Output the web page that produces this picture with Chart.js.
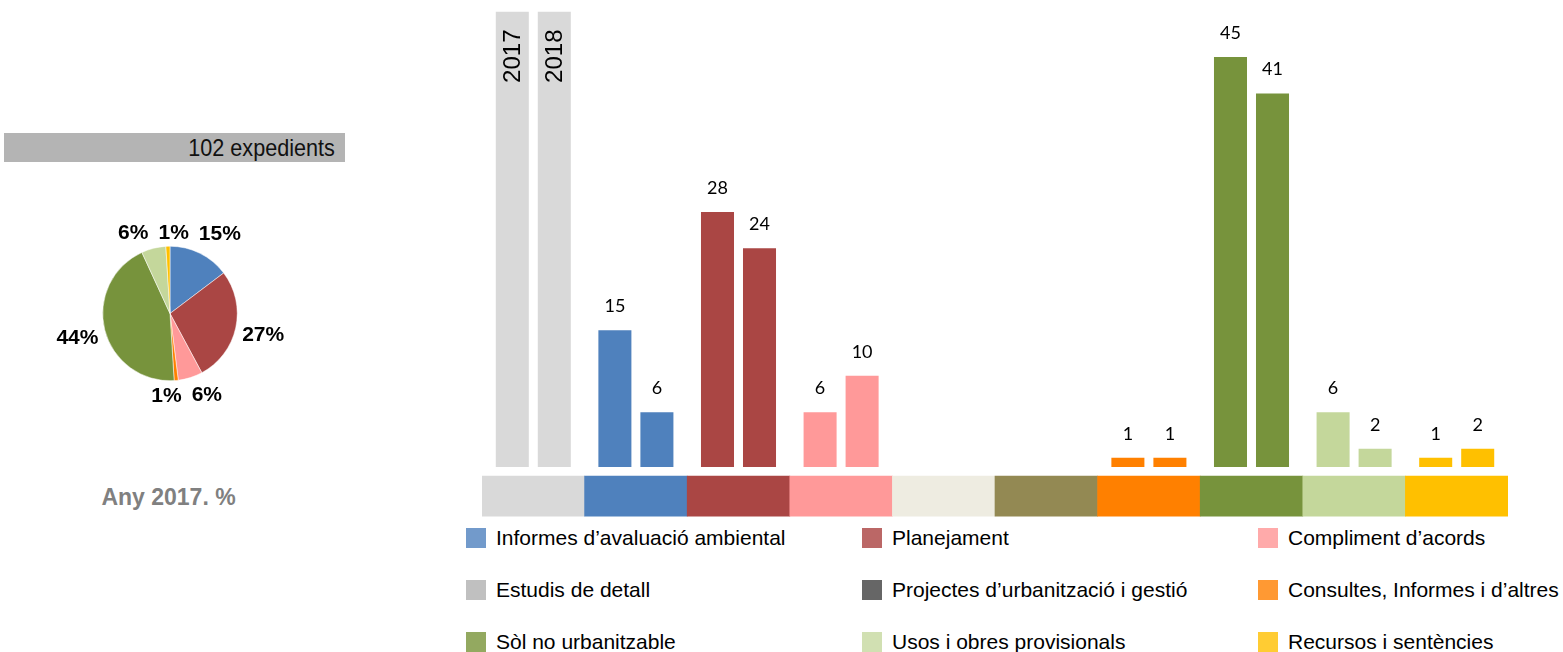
<!DOCTYPE html>
<html>
<head>
<meta charset="utf-8">
<script src="https://cdn.jsdelivr.net/npm/chart.js@4.4.0/dist/chart.umd.min.js"></script>
<style>
  body { margin: 0; width: 1563px; height: 652px; background: #fff; position: relative; overflow: hidden; font-family: "Liberation Sans", Arial, sans-serif; }
  .abs { position: absolute; }
  #banner { left: 4px; top: 133px; width: 331px; height: 29px; padding-right: 10px; background: #b4b4b4; text-align: right; font-size: 24px; line-height: 30px; color: #111; }
  #banner span { display: inline-block; transform: scaleX(0.9); transform-origin: right center; }
  #caption { left: 0; top: 484px; width: 337px; text-align: center; font-size: 23px; font-weight: bold; color: #808080; }
  .lg-box { position: absolute; width: 20px; height: 20px; }
  .lg-text { position: absolute; font-size: 21px; line-height: 20px; color: #000; white-space: nowrap; }
</style>
</head>
<body>
<div id="banner" class="abs"><span>102 expedients</span></div>
<canvas id="pieChart" class="abs" style="left:0;top:198px" width="340" height="231"></canvas>
<div id="caption" class="abs">Any 2017. %</div>
<canvas id="barChart" class="abs" style="left:482px;top:0" width="1026" height="520"></canvas>
<div id="legend"></div>
<script>
// --- Data ---
const categories = [
    "Estudis de detall",
    "Informes d’avaluació ambiental",
    "Planejament",
    "Compliment d’acords",
    "Projectes d’urbanització i gestió",
    "Altres",
    "Consultes, Informes i d’altres",
    "Sòl no urbanitzable",
    "Usos i obres provisionals",
    "Recursos i sentències",
];
const years = ["2017", "2018"];
const values2017 = [15, 28, 6, 0, 0, 1, 45, 6, 1]; // categories 1..9
const values2018 = [6, 24, 10, 0, 0, 1, 41, 2, 2];
const axisMax = 50; // gray year header bars reach the top
const bandRange = [-1, -5.4];

const pieLabels = [
    "Informes d’avaluació ambiental",
    "Planejament",
    "Compliment d’acords",
    "Consultes, Informes i d’altres",
    "Sòl no urbanitzable",
    "Usos i obres provisionals",
    "Recursos i sentències",
];
const pieValues = [15, 28, 6, 1, 45, 6, 1];

const legendLabels = [
    "Informes d’avaluació ambiental", "Planejament", "Compliment d’acords",
    "Estudis de detall", "Projectes d’urbanització i gestió", "Consultes, Informes i d’altres",
    "Sòl no urbanitzable", "Usos i obres provisionals", "Recursos i sentències",
];

// --- Colours ---
const barColors = ["#d9d9d9", "#4f81bd", "#aa4644", "#ff9999", "#eeece1", "#938953", "#ff8000", "#77933c", "#c4d79b", "#ffc000"];
const bandColors = ["#d9d9d9", "#4f81bd", "#aa4644", "#ff9999", "#eeece1", "#938953", "#ff8000", "#77933c", "#c4d79b", "#ffc000"];
const pieColors = ["#4f81bd", "#aa4644", "#ff9999", "#ff8000", "#77933c", "#c4d79b", "#ffc000"];
const legendColors = ["#729acb", "#bb6766", "#ffaaaa", "#c0c0c0", "#666666", "#ff9933", "#93a960", "#d1e0b2", "#ffcc33"];

// --- Bar chart ---
const yearLabelPlugin = {
    id: "yearLabels",
    afterDatasetsDraw(chart) {
        const ctx = chart.ctx;
        ctx.save();
        ctx.fillStyle = "#000";
        [0, 1].forEach((di) => {
            const meta = chart.getDatasetMeta(di);
            meta.data.forEach((bar, i) => {
                if (i === 0) {
                    // rotated year header
                    ctx.save();
                    ctx.translate(bar.x, bar.y + 18);
                    ctx.rotate(-Math.PI / 2);
                    ctx.font = "24px 'Liberation Sans', Arial";
                    ctx.textAlign = "right";
                    ctx.textBaseline = "middle";
                    ctx.fillText(years[di], 0, 1);
                    ctx.restore();
                    return;
                }
                const v = chart.data.datasets[di].data[i];
                if (!v) return;
                ctx.font = "18px Lato, 'Open Sans', sans-serif";
                ctx.textAlign = "center";
                ctx.textBaseline = "middle";
                ctx.fillText(String(v), bar.x, bar.y - 24);
            });
        });
        ctx.restore();
    },
};

new Chart(document.getElementById("barChart"), {
    type: "bar",
    data: {
        labels: categories,
        datasets: [
            {
                label: years[0],
                data: [axisMax, ...values2017],
                backgroundColor: barColors,
                categoryPercentage: 0.819,
                barPercentage: 0.786,
            },
            {
                label: years[1],
                data: [axisMax, ...values2018],
                backgroundColor: barColors,
                categoryPercentage: 0.819,
                barPercentage: 0.786,
            },
            {
                label: "band",
                data: categories.map(() => bandRange),
                backgroundColor: bandColors,
                grouped: false,
                categoryPercentage: 1,
                barPercentage: 1,
            },
        ],
    },
    options: {
        responsive: false,
        animation: false,
        layout: { padding: { top: 11.5, bottom: 3, left: 0, right: 0 } },
        plugins: { legend: { display: false }, tooltip: { enabled: false } },
        scales: {
            x: { display: false },
            y: { display: false, min: -5.5, max: axisMax },
        },
    },
    plugins: [yearLabelPlugin],
});

// --- Pie chart ---
const pieLabelPlugin = {
    id: "pieLabels",
    afterDatasetsDraw(chart) {
        const ctx = chart.ctx;
        const data = chart.data.datasets[0].data;
        const total = data.reduce((a, b) => a + b, 0);
        ctx.save();
        ctx.font = "bold 21px 'Liberation Sans', Arial";
        ctx.fillStyle = "#000";
        ctx.textAlign = "center";
        ctx.textBaseline = "middle";
        const boxes = chart.getDatasetMeta(0).data.map((arc, i) => {
            const text = Math.round((data[i] / total) * 100) + "%";
            const mid = (arc.startAngle + arc.endAngle) / 2;
            const w = ctx.measureText(text).width;
            const h = 15;
            const c = Math.cos(mid), s = Math.sin(mid);
            const d = arc.outerRadius + 6 + Math.abs(c) * w / 2 + Math.abs(s) * h / 2;
            return { text, x: arc.x + c * d, y: arc.y + s * d, w, h };
        });
        // push apart neighbours that overlap, a few passes
        for (let pass = 0; pass < 6; pass++) {
            for (let i = 0; i < boxes.length; i++) {
                for (let j = i + 1; j < boxes.length; j++) {
                    const a = boxes[i], b = boxes[j];
                    const ox = (a.w + b.w) / 2 + 10 - Math.abs(a.x - b.x);
                    const oy = (a.h + b.h) / 2 + 4 - Math.abs(a.y - b.y);
                    if (ox > 0 && oy > 0) {
                        const dir = a.x < b.x ? -1 : 1;
                        a.x += dir * ox / 2;
                        b.x -= dir * ox / 2;
                    }
                }
            }
        }
        boxes.forEach((b) => ctx.fillText(b.text, b.x, b.y + 1));
        ctx.restore();
    },
};

new Chart(document.getElementById("pieChart"), {
    type: "pie",
    data: {
        labels: pieLabels,
        datasets: [
            {
                data: pieValues,
                backgroundColor: pieColors,
                borderColor: "#ffffff",
                borderWidth: 0.5,
            },
        ],
    },
    options: {
        responsive: false,
        animation: false,
        layout: { padding: 48 },
        plugins: { legend: { display: false }, tooltip: { enabled: false } },
    },
    plugins: [pieLabelPlugin],
});

// --- Legend ---
const legend = document.getElementById("legend");
const colX = [466, 862, 1258];
const rowY = [528, 580, 632];
legendLabels.forEach((label, i) => {
    const x = colX[i % 3];
    const y = rowY[Math.floor(i / 3)];
    const box = document.createElement("div");
    box.className = "lg-box";
    box.style.left = x + "px";
    box.style.top = y + "px";
    box.style.background = legendColors[i];
    legend.appendChild(box);
    const txt = document.createElement("div");
    txt.className = "lg-text";
    txt.style.left = x + 30 + "px";
    txt.style.top = y + "px";
    txt.textContent = label;
    legend.appendChild(txt);
});
</script>
</body>
</html>
